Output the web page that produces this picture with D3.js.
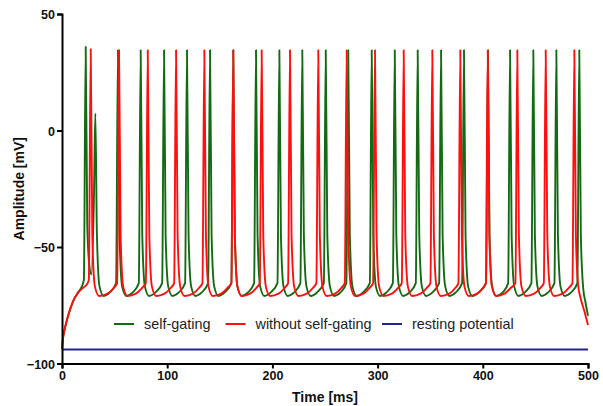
<!DOCTYPE html>
<html>
<head>
<meta charset="utf-8">
<script src="https://cdnjs.cloudflare.com/ajax/libs/d3/7.8.5/d3.min.js"></script>
<style>
    body { margin: 0; background: #fff; }
    svg { display: block; }
    .tick text { font-family: 'Liberation Sans', Arial, sans-serif; font-weight: bold; font-size: 12.5px; fill: #111; }
    .axisTitle { font-family: 'Liberation Sans', Arial, sans-serif; font-weight: bold; font-size: 14px; fill: #111; }
    .legendText { font-family: 'Liberation Sans', Arial, sans-serif; font-size: 14.4px; fill: #222; }
</style>
</head>
<body>
<div id="svgContainer"></div>
<script>

//data (time in ms, amplitude in mV)
var xTicks = [0, 100, 200, 300, 400, 500];
var yTicks = [-100, -50, 0, 50];

var seriesNames = ['self-gating', 'without self-gating', 'resting potential'];

var selfGating = [
    [0,-93.8],[1,-89],[2.5,-85.4],[5.7,-79.7],[10.5,-73.3],[15.2,-69.5],[19,-66.8],
    [20.8,-64],[22.5,36],[24,-40],[26,-58],[27.9,-61.8],
    [30.3,-30],[31.7,7.3],[33.2,-45],[35.7,-67],[39.7,-71],[45.5,-69.5],
    [51.4,-65.5],[53.2,34.5],[54.7,-45],[57.2,-67],[61.2,-71],[67.2,-69.5],
    [73,-65.5],[74.8,34.5],[76.3,-45],[78.8,-67],[82.8,-71],[88.8,-69.5],
    [95.2,-65.5],[97,34.5],[98.5,-45],[101,-67],[105,-71],[111,-69.5],
    [117,-65.5],[118.8,34.5],[120.3,-45],[122.8,-67],[126.8,-71],[132.8,-69.5],
    [138.9,-65.5],[140.7,34.5],[142.2,-45],[144.7,-67],[148.7,-71],[154.7,-69.5],
    [161,-65.5],[162.8,34.5],[164.3,-45],[166.8,-67],[170.8,-71],[176.8,-69.5],
    [182.6,-65.5],[184.4,34.5],[185.9,-45],[188.4,-67],[192.4,-71],[198.4,-69.5],
    [204.8,-65.5],[206.6,34.5],[208.1,-45],[210.6,-67],[214.6,-71],[220.6,-69.5],
    [226.6,-65.5],[228.4,34.5],[229.9,-45],[232.4,-67],[236.4,-71],[242.4,-69.5],
    [248.9,-65.5],[250.7,34.5],[252.2,-45],[254.7,-67],[258.7,-71],[264.7,-69.5],
    [270.3,-65.5],[272.1,34.5],[273.6,-45],[276.1,-67],[280.1,-71],[286.1,-69.5],
    [292.6,-65.5],[294.4,34.5],[295.9,-45],[298.4,-67],[302.4,-71],[308.4,-69.5],
    [314.5,-65.5],[316.3,34.5],[317.8,-45],[320.3,-67],[324.3,-71],[330.3,-69.5],
    [336.3,-65.5],[338.1,34.5],[339.6,-45],[342.1,-67],[346.1,-71],[352.1,-69.5],
    [358.5,-65.5],[360.3,34.5],[361.8,-45],[364.3,-67],[368.3,-71],[374.3,-69.5],
    [380.3,-65.5],[382.1,34.5],[383.6,-45],[386.1,-67],[390.1,-71],[396.1,-69.5],
    [403.1,-65.5],[404.9,34.5],[406.4,-45],[408.9,-67],[412.9,-71],[418.9,-69.5],
    [424.1,-65.5],[425.9,34.5],[427.4,-45],[429.9,-67],[433.9,-71],[439.9,-69.5],
    [446.2,-65.5],[448,34.5],[449.5,-45],[452,-67],[456,-71],[462,-69.5],
    [468.1,-65.5],[469.9,34.5],[471.4,-45],[473.9,-67],[477.9,-71],[483.9,-69.5],
    [489.9,-65.5],[491.7,34.5],[493.2,-45],[495.5,-68],[497.5,-73.5],[500,-79.5]
];

var withoutSelfGating = [
    [0,-93.8],[1,-89],[2.5,-85.4],[5.7,-79.7],[10.5,-73.3],[15.2,-69.7],[20,-67.5],[24,-65.8],
    [25.5,-64],[27.3,35],[28.8,-45],[31.3,-67],[35.3,-71],[43.3,-70],[49.3,-67.5],
    [52.4,-65.5],[54.2,34.5],[55.7,-45],[58.2,-67],[62.2,-71],[70.2,-70],[76.2,-67.5],
    [79.7,-65.5],[81.5,34.5],[83,-45],[85.5,-67],[89.5,-71],[97.5,-70],[103.5,-67.5],
    [106.6,-65.5],[108.4,34.5],[109.9,-45],[112.4,-67],[116.4,-71],[124.4,-70],[130.4,-67.5],
    [133.5,-65.5],[135.3,34.5],[136.8,-45],[139.3,-67],[143.3,-71],[151.3,-70],[157.3,-67.5],
    [161,-65.5],[162.8,34.5],[164.3,-45],[166.8,-67],[170.8,-71],[178.8,-70],[184.8,-67.5],
    [188,-65.5],[189.8,34.5],[191.3,-45],[193.8,-67],[197.8,-71],[205.8,-70],[211.8,-67.5],
    [214.9,-65.5],[216.7,34.5],[218.2,-45],[220.7,-67],[224.7,-71],[232.7,-70],[238.7,-67.5],
    [241.8,-65.5],[243.6,34.5],[245.1,-45],[247.6,-67],[251.6,-71],[259.6,-70],[265.6,-67.5],
    [268.8,-65.5],[270.6,34.5],[272.1,-45],[274.6,-67],[278.6,-71],[286.6,-70],[292.6,-67.5],
    [295.7,-65.5],[297.5,34.5],[299,-45],[301.5,-67],[305.5,-71],[313.5,-70],[319.5,-67.5],
    [323,-65.5],[324.8,34.5],[326.3,-45],[328.8,-67],[332.8,-71],[340.8,-70],[346.8,-67.5],
    [350.2,-65.5],[352,34.5],[353.5,-45],[356,-67],[360,-71],[368,-70],[374,-67.5],
    [376.8,-65.5],[378.6,34.5],[380.1,-45],[382.6,-67],[386.6,-71],[394.6,-70],[400.2,-67.5],
    [402.9,-65.5],[404.7,34.5],[406.2,-45],[408.7,-67],[412.7,-71],[420.7,-70],[426.7,-67.5],
    [431,-65.5],[432.8,34.5],[434.3,-45],[436.8,-67],[440.8,-71],[448.8,-70],[454.8,-67.5],
    [458,-65.5],[459.8,34.5],[461.3,-45],[463.8,-67],[467.8,-71],[475.8,-70],[481.8,-67.5],
    [485.2,-65.5],[487,34.5],[488.5,-45],[490.5,-66],[493,-72],[496.5,-77.5],[500,-83.5]
];

var restingPotential = [[0,-94],[500,-94]];
//end data

var colors = ['#146a14', '#ff1010', '#23238f'];
var seriesData = [selfGating, withoutSelfGating, restingPotential];

var width = 603;
var height = 406;

var svg = d3.select('#svgContainer').append('svg')
    .attr('width', width)
    .attr('height', height);

//scales
var x = d3.scaleLinear()
    .domain([0, 500])
    .range([62, 588]);

var y = d3.scaleLinear()
    .domain([-100, 50])
    .range([363.5, 14]);

var lineFunc = d3.line()
    .x(function(d){return x(d[0]);})
    .y(function(d){return y(d[1]);})
    .curve(d3.curveMonotoneX);

//traces
var gLines = svg.append('g').attr('class', 'traces');

gLines.selectAll('path')
    .data(seriesData)
    .enter().append('path')
    .attr('d', lineFunc)
    .attr('fill', 'none')
    .attr('stroke', function(d, i){return colors[i];})
    .attr('stroke-width', function(d, i){return i === 2 ? 1.8 : 1.9;})
    .attr('stroke-linejoin', 'round');

//axes
var xAxis = svg.append('g')
    .attr('transform', 'translate(0,' + y(-100) + ')')
    .call(d3.axisBottom(x).tickValues(xTicks).tickSize(5).tickPadding(2).tickFormat(d3.format('d')));

var yAxis = svg.append('g')
    .attr('transform', 'translate(' + x(0) + ',0)')
    .call(d3.axisLeft(y).tickValues(yTicks).tickSize(5).tickPadding(2).tickFormat(d3.format('d')));

[xAxis, yAxis].forEach(function(a){
    a.select('.domain').attr('stroke', '#000').attr('stroke-width', 2);
    a.selectAll('.tick line').attr('stroke', '#000').attr('stroke-width', 2);
});

xAxis.selectAll('.tick text').attr('dy', '0.78em');
yAxis.selectAll('.tick text').attr('dy', '0.36em');

svg.append('text')
    .attr('class', 'axisTitle')
    .attr('x', (x(0) + x(500)) / 2)
    .attr('y', 402)
    .attr('text-anchor', 'middle')
    .text('Time [ms]');

svg.append('text')
    .attr('class', 'axisTitle')
    .attr('transform', 'translate(24,' + ((y(50) + y(-100)) / 2) + ') rotate(-90)')
    .attr('text-anchor', 'middle')
    .text('Amplitude [mV]');

//legend
var legendX = [114, 225.5, 382];
var gLegend = svg.append('g').attr('class', 'legend');

var legendItems = gLegend.selectAll('g')
    .data(seriesNames)
    .enter().append('g')
    .attr('transform', function(d, i){return 'translate(' + legendX[i] + ',324)';});

legendItems.append('line')
    .attr('x1', 0)
    .attr('x2', 20)
    .attr('stroke', function(d, i){return colors[i];})
    .attr('stroke-width', 2);

legendItems.append('text')
    .attr('class', 'legendText')
    .attr('x', 30)
    .attr('dy', '0.35em')
    .text(function(d){return d;});

</script>
</body>
</html>
